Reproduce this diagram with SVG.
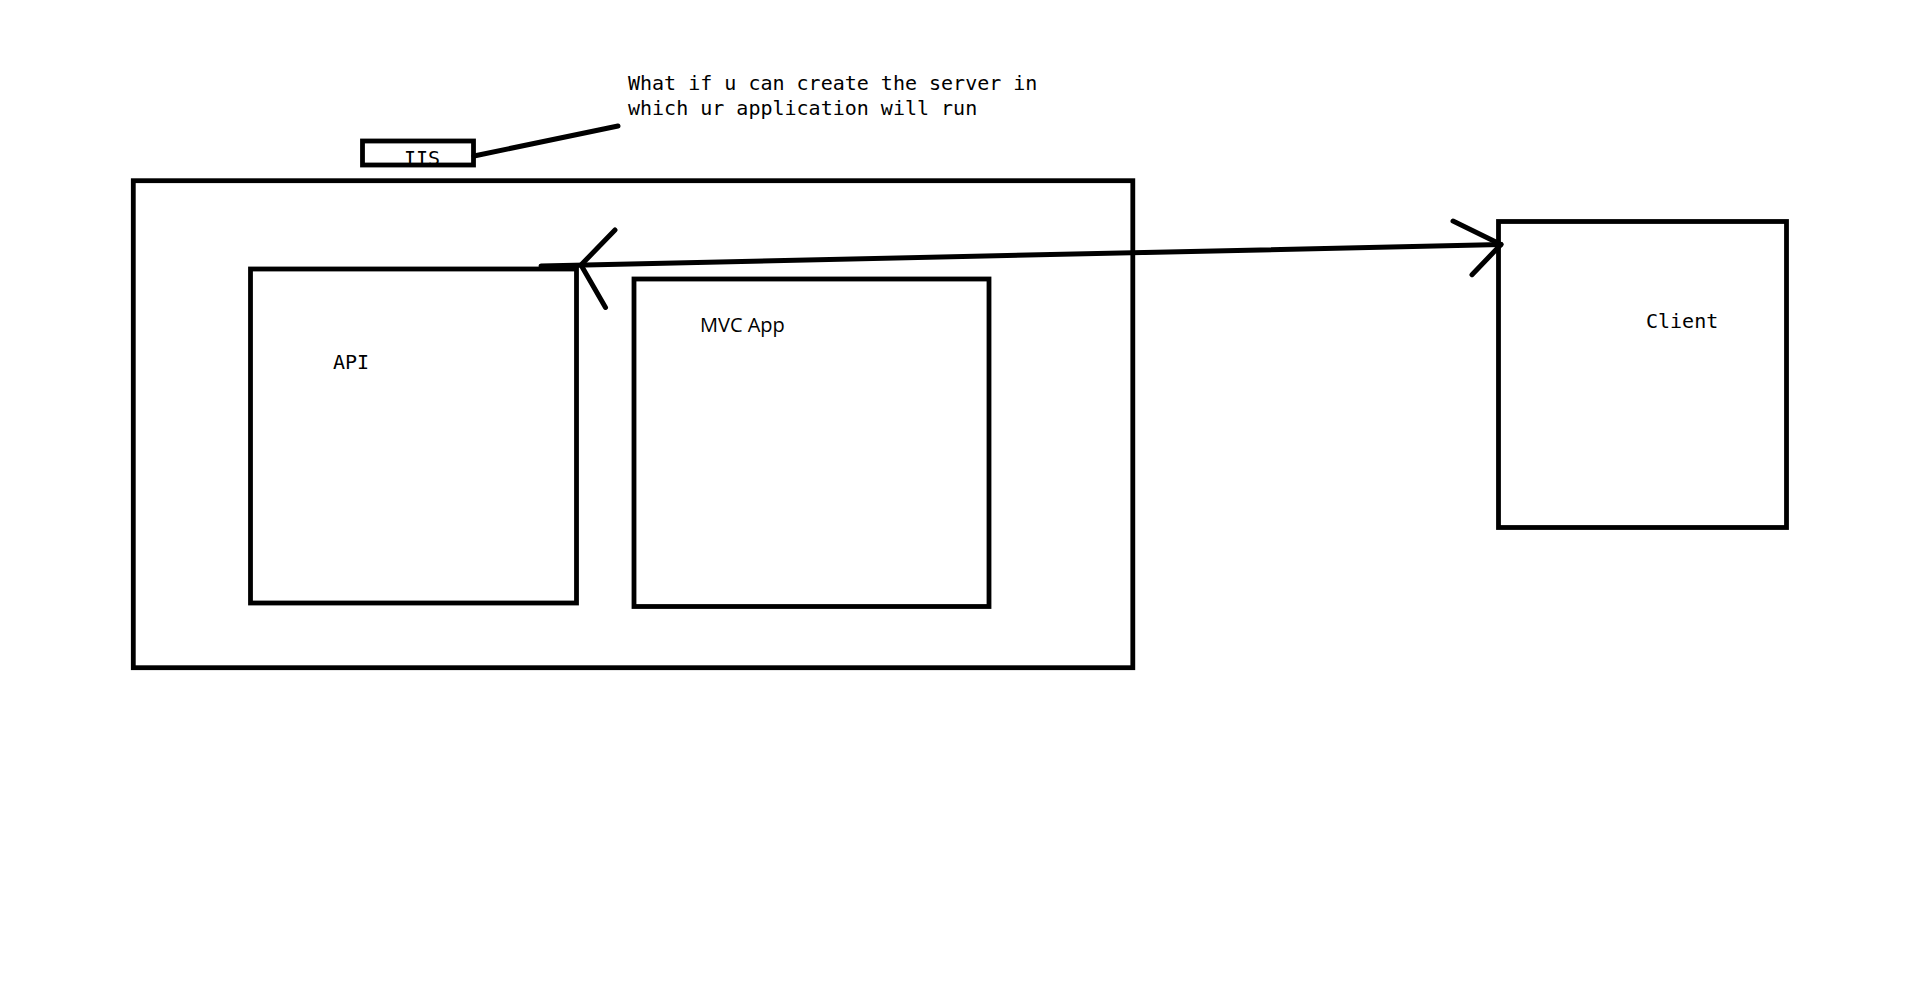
<svg xmlns="http://www.w3.org/2000/svg" width="1914" height="997" viewBox="0 0 1914 997">
<style>
.box{fill:none;stroke:#000;stroke-width:4.8}
.mono{font-family:"DejaVu Sans Mono","Liberation Mono",monospace;font-size:20px;fill:#000}
.sans{font-family:"Open Sans","Noto Sans",sans-serif;font-size:20px;fill:#000}
.ln{fill:none;stroke:#000;stroke-width:5;stroke-linecap:round;stroke-linejoin:round}
</style>
<rect width="1914" height="997" fill="#fff"/>
<g id="iis-server">
<rect class="box" x="133.3" y="180.7" width="999.5" height="487"/>
</g>
<g id="iis-label">
<rect class="box" x="362.5" y="141" width="111" height="24"/>
<text class="mono" x="404" y="165">IIS</text>
</g>
<g id="note">
<text class="mono" x="628" y="89.5">What if u can create the server in</text>
<text class="mono" x="628" y="114.5">which ur application will run</text>
</g>
<g id="api">
<rect class="box" x="250.5" y="269" width="326" height="334"/>
<text class="mono" x="333" y="369">API</text>
</g>
<g id="mvc">
<rect class="box" x="634" y="279" width="355" height="327.5"/>
<text class="sans" x="700" y="331.5">MVC App</text>
</g>
<g id="client">
<rect class="box" x="1498.5" y="221.5" width="288" height="306"/>
<text class="mono" x="1646" y="328">Client</text>
</g>
<g id="connectors">
<path class="ln" d="M474 156 L618 126"/>
<path class="ln" d="M541 266 L1501 244.5"/>
<path class="ln" d="M615 230 L581 265 L605.5 307.5"/>
<path class="ln" d="M1453 221 L1501 244.5 L1472 274.7"/>
</g>
</svg>
